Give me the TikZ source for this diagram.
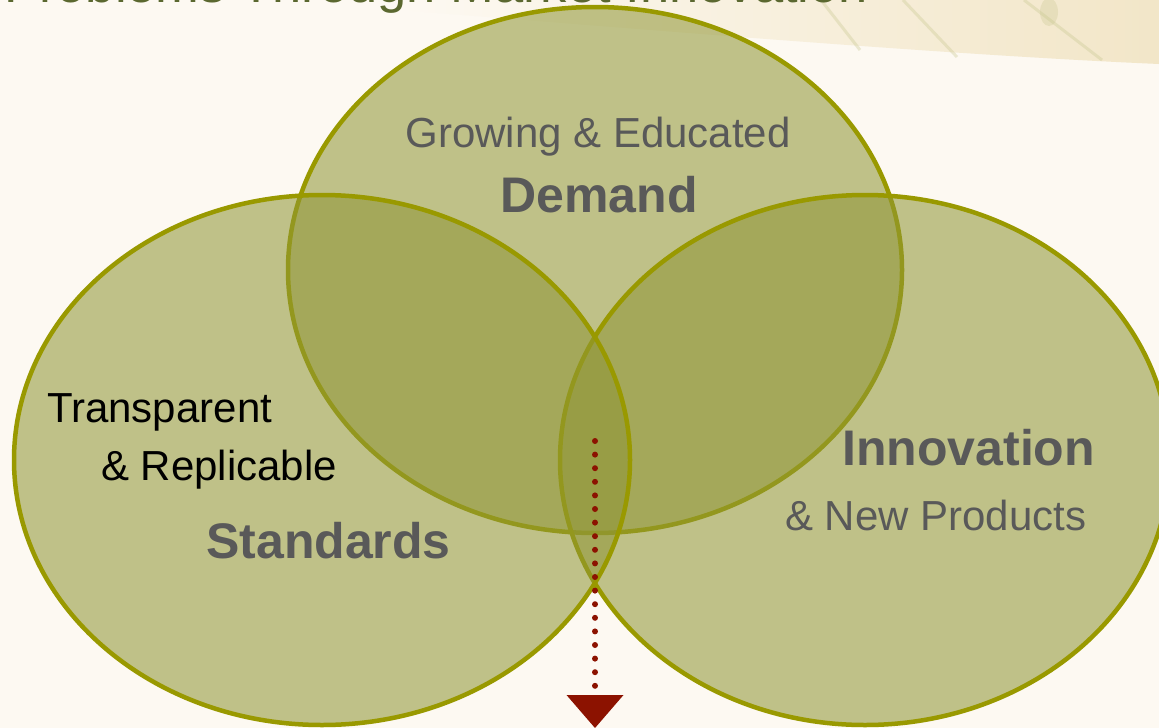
\documentclass[tikz,border=0pt]{standalone}
\usepackage{fontspec}
\setmainfont{Liberation Sans}
\usepackage{xcolor}
\usepackage{tikz}
\usetikzlibrary{arrows.meta}

\definecolor{paper}{HTML}{FDF9F2}
\definecolor{parchment}{HTML}{F2E6C8}
\definecolor{stem}{HTML}{C8C790}
\definecolor{circlefill}{RGB}{144,150,54}
\definecolor{circleline}{HTML}{999900}
\definecolor{labelgray}{HTML}{595959}
\definecolor{titlegreen}{HTML}{5B6830}
\definecolor{pathred}{HTML}{8C1200}

\tikzset{
  setcircle/.style={draw=circleline, line width=4.5pt, fill=circlefill, fill opacity=0.56},
  headword/.style={font=\fontsize{50}{60}\selectfont\bfseries, text=labelgray, inner sep=0pt},
  subword/.style={font=\fontsize{42}{50}\selectfont, text=labelgray, inner sep=0pt},
  blackword/.style={font=\fontsize{42}{50}\selectfont, text=black, inner sep=0pt},
  dotline/.style={pathred, line width=6pt, line cap=round, dash pattern=on 0pt off 13.6pt},
}

\begin{document}
\begin{tikzpicture}[x=1pt, y=-1pt]
\useasboundingbox (0,0) rectangle (1159,728);
\clip (0,0) rectangle (1159,728);

% page background and the faded band at the top
\fill[paper] (0,0) rectangle (1159,728);
\shade[left color=paper, right color=parchment] (400,0) -- (1159,0) -- (1159,64)
  .. controls (950,55) and (650,30) .. (400,10) -- cycle;
\draw[stem, line width=3pt, opacity=0.35] (821,0) -- (860,50);
\draw[stem, line width=3pt, opacity=0.35] (903,0) -- (957,57);
\draw[stem, line width=3pt, opacity=0.35] (1024,0) -- (1102,60);
\fill[stem, opacity=0.3] (1049,12) ellipse [x radius=9pt, y radius=14pt];

\node (title) [anchor=base west, inner sep=0pt, text=titlegreen, font=\fontsize{52.5}{60}\selectfont] at (4,2) {Problems Through Market Innovation};

% the three sets
\draw[setcircle] (595,270) ellipse [x radius=307pt, y radius=263pt];
\draw[setcircle] (865,460) ellipse [x radius=305pt, y radius=265pt];
\draw[setcircle] (322,460) ellipse [x radius=308pt, y radius=265pt];

% labels
\node (growing) [subword, anchor=base] at (598,147) {Growing \& Educated};
\node (demand) [headword, anchor=base] at (599,212) {Demand};
\node (transparent) [blackword, anchor=base west] at (47,422) {Transparent};
\node (replicable) [blackword, anchor=base west] at (101,480) {\& Replicable};
\node (standards) [headword, anchor=base west] at (206,558) {Standards};
\node (innovation) [headword, anchor=base west] at (842,465) {Innovation};
\node (products) [subword, anchor=base west] at (785,530) {\& New Products};

% dotted arrow out of the middle
\coordinate (core) at (595,441);
\coordinate (outcome) at (595,728);
\draw[dotline, -{Triangle[length=33pt, width=57pt, line width=0pt]}] (core) -- (outcome);
\end{tikzpicture}
\end{document}
